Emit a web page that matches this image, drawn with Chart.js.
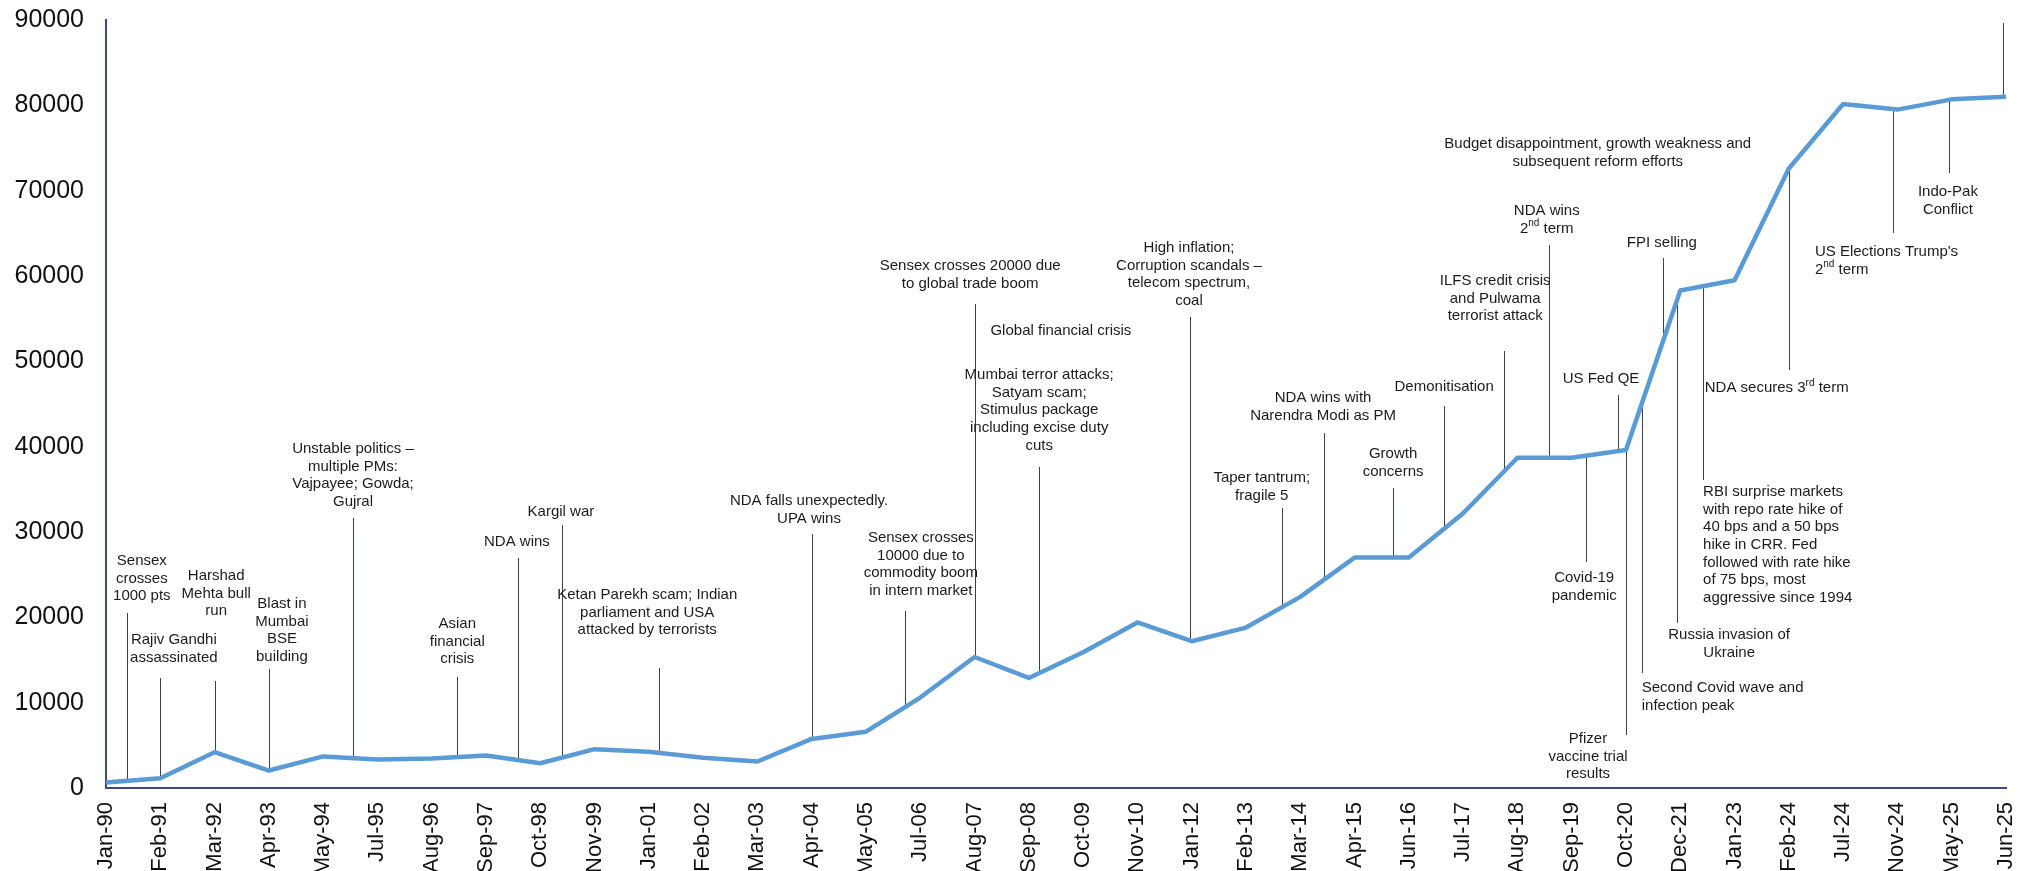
<!DOCTYPE html>
<html>
<head>
<meta charset="utf-8">
<script src="https://cdn.jsdelivr.net/npm/chart.js@4.4.1/dist/chart.umd.min.js"></script>
<style>
  html, body { margin: 0; padding: 0; background: #ffffff; }
  #wrap { width: 2029px; height: 871px; position: relative; }
</style>
</head>
<body>
<div id="wrap"><canvas id="c"></canvas></div>
<script>
// ---- data ----
const categories = ["Jan-90","Feb-91","Mar-92","Apr-93","May-94","Jul-95","Aug-96","Sep-97","Oct-98","Nov-99",
  "Jan-01","Feb-02","Mar-03","Apr-04","May-05","Jul-06","Aug-07","Sep-08","Oct-09","Nov-10",
  "Jan-12","Feb-13","Mar-14","Apr-15","Jun-16","Jul-17","Aug-18","Sep-19","Oct-20","Dec-21",
  "Jan-23","Feb-24","Jul-24","Nov-24","May-25","Jun-25"];

const sensex = [650, 1150, 4200, 2050, 3700, 3350, 3450, 3800, 2900, 4550,
  4250, 3550, 3100, 5750, 6600, 10600, 15350, 12900, 15900, 19400,
  17200, 18800, 22400, 27000, 27000, 32200, 38700, 38700, 39600, 58300,
  59500, 72600, 80150, 79500, 80700, 81000];

const yTickMin = 0;
const yTickMax = 90000;
const yTickStep = 10000;

// events: text, text position (category index, value), line position (category index) and line end value
const eventTexts = [
  "Sensex\ncrosses\n1000 pts",
  "Rajiv Gandhi\nassassinated",
  "Harshad\nMehta bull\nrun",
  "Blast in\nMumbai\nBSE\nbuilding",
  "Unstable politics –\nmultiple PMs:\nVajpayee; Gowda;\nGujral",
  "Asian\nfinancial\ncrisis",
  "NDA wins",
  "Kargil war",
  "Ketan Parekh scam; Indian\nparliament and USA\nattacked by terrorists",
  "NDA falls unexpectedly.\nUPA wins",
  "Sensex crosses\n10000 due to\ncommodity boom\nin intern market",
  "Sensex crosses 20000 due\nto global trade boom",
  "Global financial crisis",
  "Mumbai terror attacks;\nSatyam scam;\nStimulus package\nincluding excise duty\ncuts",
  "High inflation;\nCorruption scandals –\ntelecom spectrum,\ncoal",
  "Taper tantrum;\nfragile 5",
  "NDA wins with\nNarendra Modi as PM",
  "Growth\nconcerns",
  "Demonitisation",
  "ILFS credit crisis\nand Pulwama\nterrorist attack",
  "Budget disappointment, growth weakness and\nsubsequent reform efforts",
  "NDA wins\n2^nd^ term",
  "US Fed QE",
  "FPI selling",
  "Covid-19\npandemic",
  "Pfizer\nvaccine trial\nresults",
  "Second Covid wave and\ninfection peak",
  "Russia invasion of\nUkraine",
  "RBI surprise markets\nwith repo rate hike of\n40 bps and a 50 bps\nhike in CRR. Fed\nfollowed with rate hike\nof 75 bps, most\naggressive since 1994",
  "NDA secures 3^rd^ term",
  "US Elections Trump's\n2^nd^ term",
  "Indo-Pak\nConflict",
  ""
];
const eventTextAt  = [0.66, 1.25, 2.03, 3.24, 4.55, 6.47, 7.57, 8.38, 9.97, 12.95, 15.01, 15.92, 17.59, 17.19, 19.95, 21.29, 22.42, 23.71, 24.65, 25.59, 27.48, 26.54, 27.54, 28.66, 27.23, 27.30, 28.29, 29.90, 29.42, 29.45, 31.48, 33.93, null];
const eventTextLevel = [26600, 17340, 24840, 21560, 39730, 19220, 28830, 32340, 22620, 33630, 29300, 61170, 53560, 48400, 63280, 36330, 45700, 39140, 46990, 59420, 75470, 67620, 47930, 63870, 24610, 5740, 11720, 17930, 34690, 46880, 62810, 69840, null];
const eventLineAt  = [0.39, 1.0, 2.0, 3.0, 4.55, 6.47, 7.59, 8.40, 10.19, 13.0, 14.72, 16.0, null, 17.19, 19.97, 21.66, 22.44, 23.71, 24.65, 25.75, null, 26.58, 27.85, 28.68, 27.26, 28.0, 28.29, 28.94, 29.42, 31.0, 32.92, 33.95, 34.95];
const eventLineEnd = [20510, 12890, 12540, 13950, 31640, 13010, 26950, 30820, 14060, 29770, 20740, 56720, null, 37620, 55200, 32810, 41600, 35160, 44770, 51210, null, 63630, 46060, 62110, 26480, 6210, 13480, 19340, 36090, 48990, 65040, 72070, 89650];
const eventLeftAligned = [26, 28, 29, 30];

// ---- drawing helpers ----
const FONT_FAMILY = '"Liberation Sans", Arial, sans-serif';
const EV_FONT = 15;
const EV_LINE_H = 17.6;

function seriesAt(idx) {
  const i = Math.min(Math.floor(idx), sensex.length - 2);
  const t = idx - i;
  return sensex[i] + (sensex[i + 1] - sensex[i]) * t;
}

function parseRuns(line) {
  const parts = line.split('^');
  return parts.map((p, k) => ({ text: p, sup: k % 2 === 1 })).filter(r => r.text.length);
}

function drawRich(ctx, line, x, y, align) {
  const runs = parseRuns(line);
  let total = 0;
  runs.forEach(r => {
    ctx.font = (r.sup ? 10 : EV_FONT) + 'px ' + FONT_FAMILY;
    r.w = ctx.measureText(r.text).width;
    total += r.w;
  });
  let cx = align === 'left' ? x : x - total / 2;
  runs.forEach(r => {
    ctx.font = (r.sup ? 10 : EV_FONT) + 'px ' + FONT_FAMILY;
    ctx.textAlign = 'left';
    ctx.textBaseline = 'middle';
    ctx.fillText(r.text, cx, r.sup ? y - 5 : y);
    cx += r.w;
  });
}

const eventPlugin = {
  id: 'events',
  beforeDatasetsDraw(chart) {
    const ctx = chart.ctx, xs = chart.scales.x, ys = chart.scales.y;
    ctx.save();
    ctx.strokeStyle = '#3b4050';
    ctx.lineWidth = 1;
    eventLineAt.forEach((at, i) => {
      if (at === null) return;
      const px = Math.round(xs.getPixelForValue(at)) + 0.5;
      const y1 = ys.getPixelForValue(seriesAt(at));
      const y2 = ys.getPixelForValue(eventLineEnd[i]);
      ctx.beginPath();
      ctx.moveTo(px, y1);
      ctx.lineTo(px, y2);
      ctx.stroke();
    });
    ctx.restore();
  },
  afterDatasetsDraw(chart) {
    const ctx = chart.ctx, xs = chart.scales.x, ys = chart.scales.y;
    ctx.save();
    ctx.fillStyle = '#1c1c1c';
    eventTexts.forEach((txt, i) => {
      if (!txt || eventTextAt[i] === null) return;
      const x = xs.getPixelForValue(eventTextAt[i]);
      const y0 = ys.getPixelForValue(eventTextLevel[i]);
      const align = eventLeftAligned.includes(i) ? 'left' : 'center';
      txt.split('\n').forEach((ln, k) => drawRich(ctx, ln, x, y0 + k * EV_LINE_H, align));
    });
    ctx.restore();
  }
};

new Chart(document.getElementById('c'), {
  type: 'line',
  data: {
    labels: categories,
    datasets: [{
      data: sensex,
      borderColor: '#5b9bd5',
      borderWidth: 4.5,
      pointRadius: 0,
      tension: 0,
      fill: false,
      borderJoinStyle: 'round'
    }]
  },
  options: {
    responsive: true,
    maintainAspectRatio: false,
    animation: false,
    devicePixelRatio: 1,
    layout: { padding: { top: 20, right: 23, left: 0, bottom: 0 } },
    plugins: { legend: { display: false }, tooltip: { enabled: false } },
    scales: {
      x: {
        type: 'category',
        offset: false,
        grid: { display: false, drawTicks: false },
        border: { display: true, color: '#414a78', width: 2 },
        ticks: {
          autoSkip: false,
          minRotation: 90,
          maxRotation: 90,
          padding: 14,
          color: '#111111',
          font: { family: FONT_FAMILY, size: 22 }
        },
        afterFit(s) { s.height = 83; s.paddingLeft = 0; s.paddingRight = 0; }
      },
      y: {
        min: yTickMin,
        max: yTickMax,
        grid: { display: false, drawTicks: false },
        border: { display: true, color: '#414a78', width: 2 },
        ticks: {
          stepSize: yTickStep,
          padding: 22,
          color: '#111111',
          font: { family: FONT_FAMILY, size: 25 },
          callback: v => String(v)
        },
        afterFit(s) { s.width = 106; s.paddingTop = 0; s.paddingBottom = 0; }
      }
    }
  },
  plugins: [eventPlugin]
});
</script>
</body>
</html>
